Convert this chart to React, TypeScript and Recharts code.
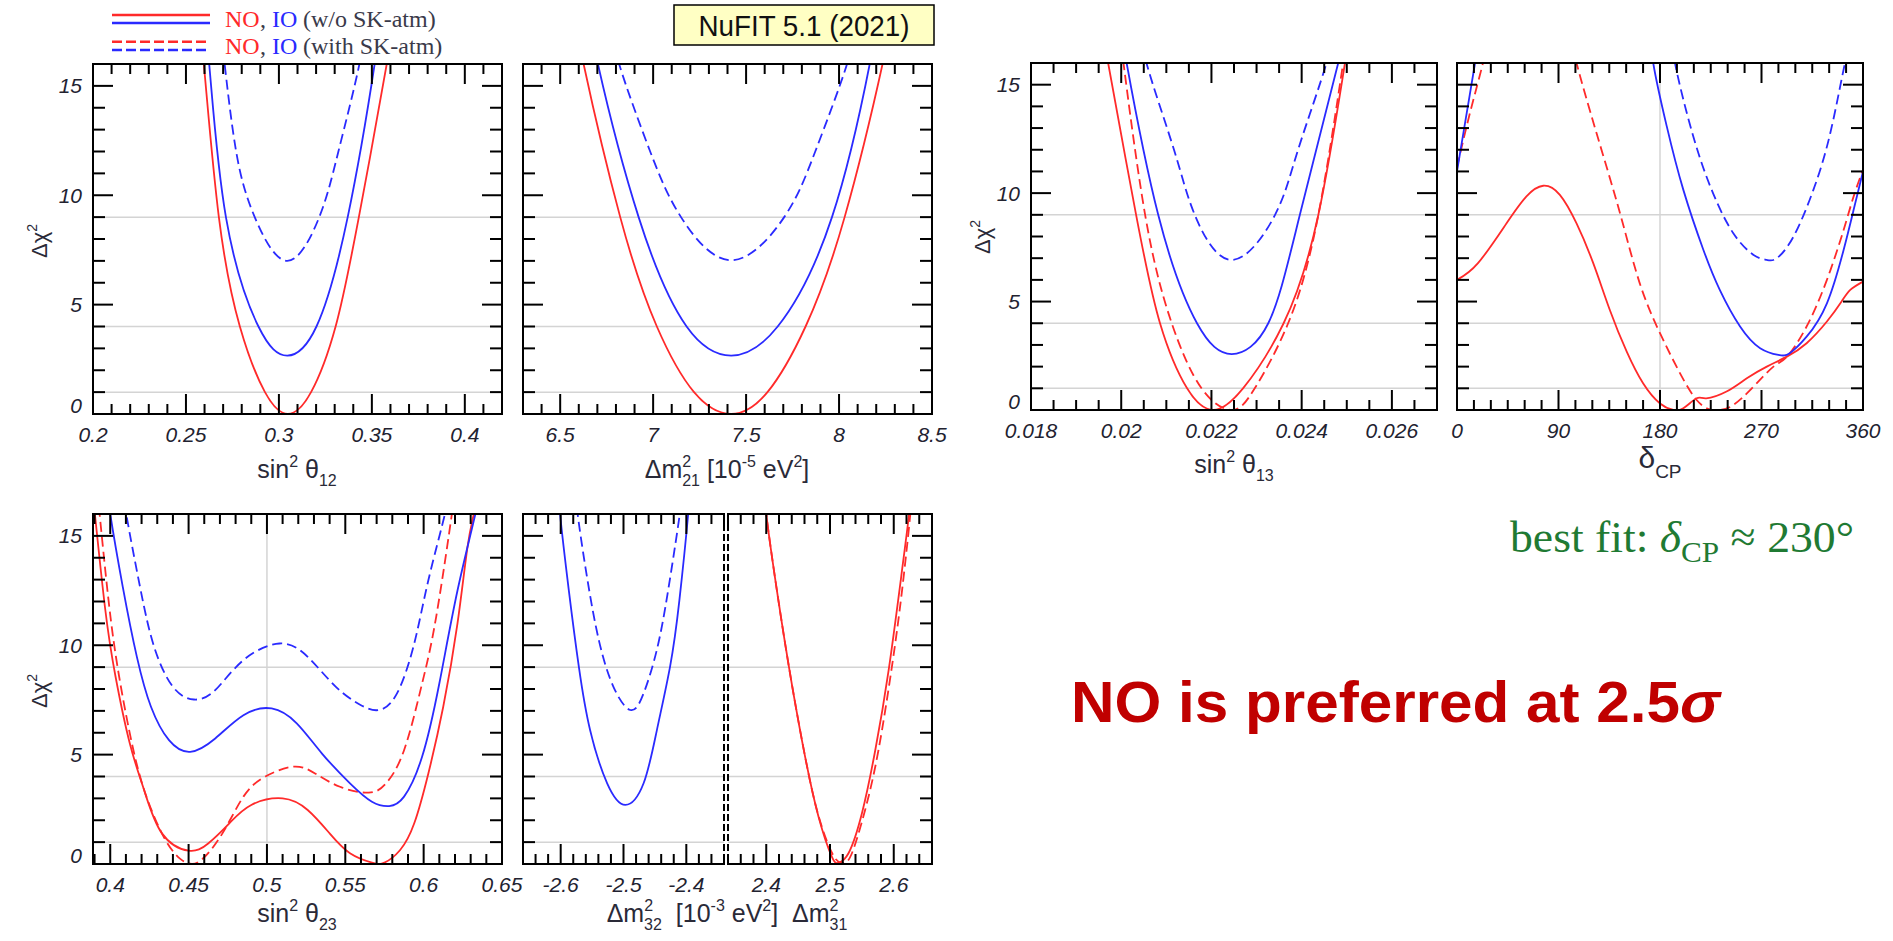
import { LineChart, Line, XAxis, YAxis, ReferenceLine } from "recharts";

type Pt = [number, number];
type Side = "bottom" | "top" | "left" | "right";

const RED = "#ff2a2a";
const BLUE = "#2a2aff";

// Δχ² axis (shared by all panels)
const chiDomain: [number, number] = [0, 16];
const chiTicks = steps(0, 16, 1);
const chiMajors = [0, 5, 10, 15];
const chiGrid = [1, 4, 9];

// ---- sin^2 theta12 ----
const s12Majors = [0.2, 0.25, 0.3, 0.35, 0.4];
const s12_NO: Pt[] = [[0.255, 19.5], [0.2596, 16], [0.2677, 9], [0.279, 4], [0.2925, 1], [0.3048, 0], [0.3173, 1], [0.3305, 4], [0.343, 9], [0.358, 16], [0.362, 18.5]];
const s12_IO: Pt[] = [[0.258, 19], [0.2625, 16], [0.2715, 9], [0.289, 4], [0.3045, 2.67], [0.3202, 4], [0.337, 9], [0.3515, 16], [0.355, 18.5]];
const s12_IO_SK: Pt[] = [[0.268, 18], [0.2708, 16], [0.277, 12], [0.287, 9], [0.3045, 7.0], [0.3217, 9], [0.332, 12], [0.3433, 16], [0.346, 18]];

// ---- dm2_21 ----
const m21Majors = [6.5, 7, 7.5, 8, 8.5];
const m21_NO: Pt[] = [[6.6, 17.5], [6.626, 16], [6.823, 9], [7.02, 4], [7.22, 1], [7.42, 0], [7.615, 1], [7.82, 4], [8.03, 9], [8.234, 16], [8.26, 17.5]];
const m21_IO: Pt[] = [[6.68, 17.5], [6.703, 16], [6.922, 9], [7.18, 4], [7.42, 2.67], [7.67, 4], [7.962, 9], [8.165, 16], [8.19, 17.5]];
const m21_IO_SK: Pt[] = [[6.79, 17.5], [6.817, 16], [6.984, 12], [7.15, 9], [7.42, 7.03], [7.705, 9], [7.872, 12], [8.043, 16], [8.07, 17.5]];

// ---- sin^2 theta13 ----
const s13Majors = [0.018, 0.02, 0.022, 0.024, 0.026];
const s13_NO: Pt[] = [[0.0196, 17.5], [0.01971, 16], [0.02033, 9], [0.02086, 4], [0.02146, 1], [0.02204, 0], [0.0227, 1], [0.0236, 4], [0.02437, 9], [0.02496, 16], [0.0251, 17.5]];
const s13_NO_SK: Pt[] = [[0.01995, 17.5], [0.02005, 16], [0.02053, 9], [0.02112, 4], [0.02178, 1], [0.02245, 0], [0.02296, 1], [0.0237, 4], [0.02437, 9], [0.02492, 16], [0.02505, 17.5]];
const s13_IO: Pt[] = [[0.02, 17.5], [0.02012, 16], [0.02082, 9], [0.02168, 4], [0.02245, 2.58], [0.02326, 4], [0.02396, 9], [0.02481, 16], [0.02495, 17.5]];
const s13_IO_SK: Pt[] = [[0.0205, 17.5], [0.02056, 16], [0.02117, 12], [0.02163, 9], [0.02245, 6.92], [0.02341, 9], [0.02392, 12], [0.02455, 16], [0.02465, 17.5]];

// ---- delta_CP ----
const dcpMajors = [0, 90, 180, 270, 360];
const dcp_NO: Pt[] = [[0, 6.0], [18.6, 6.77], [43.8, 8.6], [61.6, 9.85], [76.4, 10.34], [91.2, 9.92], [106, 8.6], [120.8, 6.77], [135.6, 4.6], [150.4, 2.7], [165, 1.23], [180, 0.3], [191.8, 0], [200.7, 0.08], [212.5, 0.54], [221, 0.54], [239, 0.85], [257, 1.46], [274.7, 2.0], [292.5, 2.46], [310, 3.08], [328, 4.08], [341, 5.0], [348.7, 5.54], [360, 5.92]];
const dcp_NO_SK: Pt[] = [[100, 17.5], [106, 16], [123.7, 12.77], [144.5, 9.08], [162, 5.85], [180, 3.54], [197.8, 1.69], [212.5, 0.46], [224, 0.03], [233, 0], [245, 0.23], [263, 1.08], [280.6, 2.0], [292.5, 2.46], [310, 3.85], [328, 6.0], [342.8, 8.3], [351.7, 9.85], [360, 11.08]];
const dcp_NO_SK_wrap: Pt[] = [[0, 11.2], [12, 13.8], [23, 16], [27, 17.2]];
const dcp_IO: Pt[] = [[172, 17.5], [174, 16], [185.9, 13.1], [200.7, 10.15], [218.5, 7.38], [233, 5.54], [251, 3.85], [268.8, 2.85], [285, 2.54], [295, 2.62], [310, 3.38], [328, 4.92], [342.8, 7.38], [351.7, 9.23], [360, 11.0]];
const dcp_IO_wrap: Pt[] = [[0, 11.0], [8, 13.5], [16, 16], [19, 17.2]];
const dcp_IO_SK: Pt[] = [[191, 17.5], [193.3, 16], [209.6, 12.6], [227, 10.0], [245, 8.15], [263, 7.15], [274.7, 6.92], [283.6, 7.0], [298.4, 8.0], [316, 10.15], [331, 12.77], [342.8, 15.7], [345.8, 16.3], [347, 17]];

// ---- sin^2 theta23 ----
const s23Majors = [0.4, 0.45, 0.5, 0.55, 0.6, 0.65];
const s23_NO: Pt[] = [[0.389, 16.6], [0.3902, 16], [0.3966, 11.76], [0.4034, 8.56], [0.4125, 5.51], [0.4216, 3.38], [0.433, 1.4], [0.45, 0.61], [0.4625, 0.94], [0.476, 1.86], [0.49, 2.7], [0.51, 3.0], [0.526, 2.47], [0.54, 1.4], [0.553, 0.49], [0.567, 0.06], [0.575, 0.06], [0.585, 0.64], [0.594, 1.86], [0.603, 4.14], [0.6125, 7.19], [0.6216, 11.0], [0.628, 14.5], [0.632, 16], [0.634, 17]];
const s23_NO_SK: Pt[] = [[0.3915, 17], [0.3932, 16], [0.3989, 12.06], [0.4057, 8.56], [0.4148, 5.2], [0.4239, 2.92], [0.4352, 1.1], [0.4443, 0.26], [0.45, 0.03], [0.458, 0.18], [0.4716, 1.4], [0.485, 3.08], [0.499, 4.0], [0.517, 4.45], [0.5307, 4.14], [0.5466, 3.53], [0.565, 3.26], [0.576, 3.69], [0.5875, 5.2], [0.599, 8.25], [0.608, 11.3], [0.618, 16], [0.6195, 17]];
const s23_IO: Pt[] = [[0.398, 17.2], [0.4, 16], [0.408, 12.67], [0.417, 9.47], [0.426, 7.19], [0.4375, 5.66], [0.451, 5.13], [0.467, 5.74], [0.485, 6.8], [0.503, 7.11], [0.519, 6.43], [0.535, 5.06], [0.553, 3.69], [0.567, 2.85], [0.578, 2.65], [0.5875, 3.08], [0.599, 4.9], [0.61, 8.25], [0.6216, 12.5], [0.633, 16], [0.635, 17]];
const s23_IO_SK: Pt[] = [[0.408, 17.2], [0.4102, 16], [0.419, 12.67], [0.428, 9.93], [0.44, 8.1], [0.4534, 7.52], [0.467, 7.95], [0.485, 9.32], [0.508, 10.08], [0.526, 9.47], [0.544, 8.1], [0.56, 7.26], [0.5716, 7.04], [0.583, 7.8], [0.594, 10.08], [0.603, 12.97], [0.6136, 16], [0.615, 16.8]];

// ---- dm2_32 (IO) ----
const m32Majors = [-2.6, -2.5, -2.4];
const m32_IO: Pt[] = [[-2.603, 17.2], [-2.601, 16], [-2.587, 12.5], [-2.571, 9.0], [-2.553, 6.1], [-2.526, 3.69], [-2.497, 2.7], [-2.468, 3.69], [-2.447, 6.1], [-2.426, 9.0], [-2.411, 12.06], [-2.397, 16], [-2.395, 17]];
const m32_IO_SK: Pt[] = [[-2.575, 17], [-2.573, 16], [-2.558, 13.1], [-2.539, 10.2], [-2.516, 8.1], [-2.489, 7.04], [-2.468, 7.8], [-2.447, 9.78], [-2.429, 12.5], [-2.411, 15.87], [-2.409, 16.5]];

// ---- dm2_31 (NO) ----
const m31Majors = [2.4, 2.5, 2.6];
const m31_NO: Pt[] = [[2.399, 17], [2.4, 16], [2.419, 12.06], [2.44, 8.25], [2.461, 4.9], [2.482, 2.16], [2.503, 0.33], [2.514, 0.06], [2.529, 0.49], [2.55, 2.31], [2.571, 5.2], [2.592, 8.86], [2.613, 13.43], [2.624, 16], [2.626, 17]];
const m31_NO_SK: Pt[] = [[2.399, 17], [2.4, 16], [2.419, 12.06], [2.44, 8.25], [2.461, 4.9], [2.482, 2.2], [2.505, 0.4], [2.519, 0.05], [2.533, 0.4], [2.555, 2.46], [2.576, 5.2], [2.597, 9.0], [2.613, 12.5], [2.626, 16], [2.628, 17]];

function steps(from: number, to: number, step: number): number[] {
  const n = Math.round((to - from) / step);
  return Array.from({ length: n + 1 }, (_, i) => +(from + i * step).toFixed(6));
}

type Series = { pts: Pt[]; color: string; dashed?: boolean };
type PanelSpec = {
  left: number; top: number; w: number; h: number;
  xDomain: [number, number]; xTicks: number[]; xMajors: number[];
  yLabels: boolean; vGrid?: number;
  brokenLeft?: boolean; brokenRight?: boolean;
  series: Series[];
};

const panels: PanelSpec[] = [
  {
    left: 93, top: 64, w: 409, h: 350, xDomain: [0.2, 0.42], xTicks: steps(0.2, 0.42, 0.01), xMajors: s12Majors, yLabels: true,
    series: [{ pts: s12_NO, color: RED }, { pts: s12_IO, color: BLUE }, { pts: s12_IO_SK, color: BLUE, dashed: true }],
  },
  {
    left: 523, top: 64, w: 409, h: 350, xDomain: [6.3, 8.5], xTicks: steps(6.3, 8.5, 0.1), xMajors: m21Majors, yLabels: false,
    series: [{ pts: m21_NO, color: RED }, { pts: m21_IO, color: BLUE }, { pts: m21_IO_SK, color: BLUE, dashed: true }],
  },
  {
    left: 1031, top: 63, w: 406, h: 347, xDomain: [0.018, 0.027], xTicks: steps(0.018, 0.027, 0.0005), xMajors: s13Majors, yLabels: true,
    series: [{ pts: s13_NO, color: RED }, { pts: s13_NO_SK, color: RED, dashed: true }, { pts: s13_IO, color: BLUE }, { pts: s13_IO_SK, color: BLUE, dashed: true }],
  },
  {
    left: 1457, top: 63, w: 406, h: 347, xDomain: [0, 360], xTicks: steps(0, 360, 15), xMajors: dcpMajors, yLabels: false, vGrid: 180,
    series: [
      { pts: dcp_NO, color: RED }, { pts: dcp_NO_SK, color: RED, dashed: true }, { pts: dcp_NO_SK_wrap, color: RED, dashed: true },
      { pts: dcp_IO, color: BLUE }, { pts: dcp_IO_wrap, color: BLUE }, { pts: dcp_IO_SK, color: BLUE, dashed: true },
    ],
  },
  {
    left: 93, top: 514, w: 409, h: 350, xDomain: [0.389, 0.65], xTicks: steps(0.39, 0.65, 0.01), xMajors: s23Majors, yLabels: true, vGrid: 0.5,
    series: [{ pts: s23_NO, color: RED }, { pts: s23_NO_SK, color: RED, dashed: true }, { pts: s23_IO, color: BLUE }, { pts: s23_IO_SK, color: BLUE, dashed: true }],
  },
  {
    left: 523, top: 514, w: 201, h: 350, xDomain: [-2.66, -2.34], xTicks: steps(-2.66, -2.34, 0.02), xMajors: m32Majors, yLabels: false, brokenRight: true,
    series: [{ pts: m32_IO, color: BLUE }, { pts: m32_IO_SK, color: BLUE, dashed: true }],
  },
  {
    left: 728, top: 514, w: 204, h: 350, xDomain: [2.34, 2.66], xTicks: steps(2.34, 2.66, 0.02), xMajors: m31Majors, yLabels: false, brokenLeft: true,
    series: [{ pts: m31_NO, color: RED }, { pts: m31_NO_SK, color: RED, dashed: true }],
  },
];

const ML = 60, MR = 34, MT = 6, MB = 40;
const FRAME = { stroke: "#000", strokeWidth: 2, strokeLinecap: "square" as const };
const BROKEN = { stroke: "#000", strokeWidth: 2, strokeDasharray: "7 3" };
const TICK_TXT: React.CSSProperties = { fontFamily: "'Liberation Sans', Arial, sans-serif", fontStyle: "italic", fontSize: 21, fill: "#222230" };
const TITLE = { fontFamily: "'Liberation Sans', Arial, sans-serif", fontSize: 25, fill: "#2a2a38" };
const LEG = { fontFamily: "'Liberation Serif', 'Times New Roman', serif", fontSize: 24 };

function makeTick(side: Side, majors: number[], labelled: boolean, show = true) {
  return (props: any) => {
    if (!show) return <g />;
    const { x, y, payload } = props;
    const v = payload.value as number;
    const m = majors.find((k) => Math.abs(k - v) < 1e-7);
    const major = m !== undefined;
    const horiz = side === "bottom" || side === "top";
    const len = major ? 20 : horiz ? 10 : 12;
    let x2 = x, y2 = y;
    if (side === "bottom") y2 = y - len;
    if (side === "top") y2 = y + len;
    if (side === "left") x2 = x + len;
    if (side === "right") x2 = x - len;
    let label = null;
    if (labelled && major) {
      if (side === "bottom")
        label = <text x={x} y={y + 28} textAnchor="middle" style={TICK_TXT}>{String(m)}</text>;
      if (side === "left")
        label = <text x={x - 11} y={m === 0 ? y - 1 : y + 7.5} textAnchor="end" style={TICK_TXT}>{String(m)}</text>;
    }
    return (
      <g>
        <line x1={x} y1={y} x2={x2} y2={y2} stroke="#000" strokeWidth={2} />
        {label}
      </g>
    );
  };
}

function Panel({ p }: { p: PanelSpec }) {
  const W = ML + 1 + p.w + 1 + MR;
  const H = MT + 1 + p.h + 1 + MB;
  return (
    <div style={{ position: "absolute", left: p.left - ML - 1, top: p.top - MT - 1, width: W, height: H }}>
      <LineChart width={W} height={H} margin={{ top: MT, right: MR, bottom: MB, left: ML }}>
        <XAxis xAxisId="b" type="number" dataKey="x" domain={p.xDomain} allowDataOverflow ticks={p.xTicks} interval={0}
          height={1} tickSize={0} tickMargin={0} tickLine={false} axisLine={FRAME} tick={makeTick("bottom", p.xMajors, true)} />
        <XAxis xAxisId="t" orientation="top" type="number" dataKey="x" domain={p.xDomain} allowDataOverflow ticks={p.xTicks} interval={0}
          height={1} tickSize={0} tickMargin={0} tickLine={false} axisLine={FRAME} tick={makeTick("top", p.xMajors, false)} />
        <YAxis yAxisId="l" type="number" domain={chiDomain} allowDataOverflow ticks={chiTicks} interval={0}
          width={1} tickSize={0} tickMargin={0} tickLine={false} axisLine={p.brokenLeft ? BROKEN : FRAME}
          tick={makeTick("left", chiMajors, p.yLabels, !p.brokenLeft)} />
        <YAxis yAxisId="r" orientation="right" type="number" domain={chiDomain} allowDataOverflow ticks={chiTicks} interval={0}
          width={1} tickSize={0} tickMargin={0} tickLine={false} axisLine={p.brokenRight ? BROKEN : FRAME}
          tick={makeTick("right", chiMajors, false, !p.brokenRight)} />
        {chiGrid.map((g) => (
          <ReferenceLine key={g} xAxisId="b" yAxisId="l" y={g} stroke="#d4d4d4" strokeWidth={1.5} />
        ))}
        {p.vGrid !== undefined && <ReferenceLine xAxisId="b" yAxisId="l" x={p.vGrid} stroke="#d4d4d4" strokeWidth={1.5} />}
        {p.series.map((s, i) => (
          <Line key={i} xAxisId="b" yAxisId="l" data={s.pts.map(([x, y]) => ({ x, y }))} dataKey="y" type="natural"
            stroke={s.color} strokeWidth={1.8} strokeDasharray={s.dashed ? "10 5" : undefined}
            dot={false} activeDot={false} isAnimationActive={false} />
        ))}
      </LineChart>
    </div>
  );
}

function Sin2({ x, y, sub }: { x: number; y: number; sub: string }) {
  return (
    <text x={x} y={y} textAnchor="middle" style={TITLE}>
      sin<tspan dy={-11} fontSize={16}>2</tspan><tspan dy={11}> θ</tspan><tspan dy={8} fontSize={16}>{sub}</tspan>
    </text>
  );
}

function ChiLabel({ x, y }: { x: number; y: number }) {
  return (
    <text transform={`translate(${x},${y}) rotate(-90)`} textAnchor="middle" style={{ ...TITLE, fontSize: 22 }}>
      Δχ<tspan dy={-10} fontSize={14}>2</tspan>
    </text>
  );
}

function LegendRow({ y, label }: { y: number; label: string }) {
  return (
    <g style={LEG}>
      <text x={225} y={y} fill={RED}>NO</text>
      <text x={260} y={y} fill="#3a3a4a">,</text>
      <text x={272} y={y} fill={BLUE}>IO</text>
      <text x={303} y={y} fill="#3a3a4a">{label}</text>
    </g>
  );
}

export default function App() {
  return (
    <div style={{ position: "absolute", left: 0, top: 0, width: 1893, height: 941, background: "#fff", overflow: "hidden" }}>
      {panels.map((p, i) => (
        <Panel key={i} p={p} />
      ))}
      <svg width={1893} height={941} style={{ position: "absolute", left: 0, top: 0, pointerEvents: "none" }}>
        {/* legend */}
        <line x1={112} y1={15} x2={210} y2={15} stroke={RED} strokeWidth={2.5} />
        <line x1={112} y1={23} x2={210} y2={23} stroke={BLUE} strokeWidth={2.5} />
        <line x1={112} y1={41.7} x2={210} y2={41.7} stroke={RED} strokeWidth={2.5} strokeDasharray="10 4" />
        <line x1={112} y1={50} x2={210} y2={50} stroke={BLUE} strokeWidth={2.5} strokeDasharray="10 4" />
        <LegendRow y={27} label="(w/o SK-atm)" />
        <LegendRow y={54} label="(with SK-atm)" />
        {/* NuFIT box */}
        <rect x={674} y={5} width={260} height={40} fill="#ffffc4" stroke="#000" strokeWidth={1.5} />
        <text x={804} y={36} textAnchor="middle" textLength={211} lengthAdjust="spacingAndGlyphs"
          style={{ fontFamily: "'Liberation Sans', Arial, sans-serif", fontSize: 30, fill: "#111" }}>
          NuFIT 5.1 (2021)
        </text>

        {/* axis titles */}
        <ChiLabel x={47} y={241} />
        <ChiLabel x={990} y={237} />
        <ChiLabel x={47} y={691} />
        <Sin2 x={297} y={478} sub="12" />
        <text x={727} y={478} textAnchor="middle" style={TITLE}>
          Δm<tspan dy={-11} fontSize={16}>2</tspan><tspan dx={-9} dy={19} fontSize={16}>21</tspan>
          <tspan dy={-8}> [10</tspan><tspan dy={-11} fontSize={16}>-5</tspan><tspan dy={11}> eV</tspan>
          <tspan dy={-11} fontSize={16}>2</tspan><tspan dy={11}>]</tspan>
        </text>
        <Sin2 x={1234} y={473} sub="13" />
        <text x={1660} y={468} textAnchor="middle" style={{ ...TITLE, fontSize: 30 }}>
          δ<tspan dy={10} fontSize={19}>CP</tspan>
        </text>
        <Sin2 x={297} y={922} sub="23" />
        <text x={727} y={922} textAnchor="middle" style={TITLE}>
          Δm<tspan dy={-11} fontSize={16}>2</tspan><tspan dx={-9} dy={19} fontSize={16}>32</tspan>
          <tspan dy={-8}>{"\u00a0\u00a0[10"}</tspan><tspan dy={-11} fontSize={16}>-3</tspan><tspan dy={11}> eV</tspan>
          <tspan dy={-11} fontSize={16}>2</tspan><tspan dy={11}>{"]\u00a0\u00a0Δm"}</tspan>
          <tspan dy={-11} fontSize={16}>2</tspan><tspan dx={-9} dy={19} fontSize={16}>31</tspan>
        </text>

        {/* annotations */}
        <text x={1510} y={552} textLength={344} lengthAdjust="spacingAndGlyphs"
          style={{ fontFamily: "'Liberation Serif', 'Times New Roman', serif", fontSize: 44, fill: "#1f7a33" }}>
          best fit: <tspan fontStyle="italic">δ</tspan><tspan dy={10} fontSize={30}>CP</tspan><tspan dy={-10}> ≈ 230°</tspan>
        </text>
        <text x={1071} y={722} textLength={649} lengthAdjust="spacingAndGlyphs"
          style={{ fontFamily: "'Liberation Sans', Arial, sans-serif", fontWeight: "bold", fontSize: 58, fill: "#c00000" }}>
          NO is preferred at 2.5<tspan fontStyle="italic">σ</tspan>
        </text>
      </svg>
    </div>
  );
}
